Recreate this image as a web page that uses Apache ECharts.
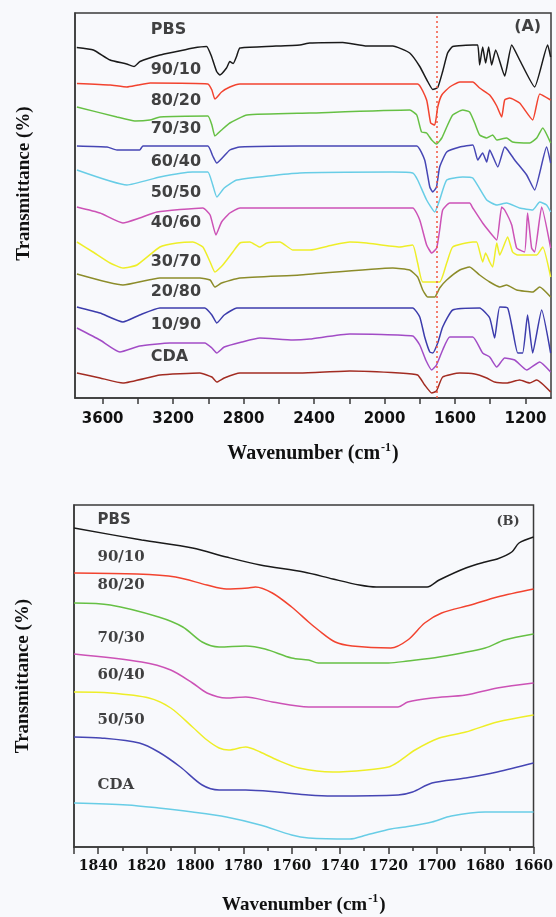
<!DOCTYPE html>
<html>
<head>
<meta charset="utf-8">
<title>FTIR spectra</title>
<script src="https://cdn.jsdelivr.net/npm/echarts@6/dist/echarts.min.js"></script>
<style>
html, body { margin: 0; padding: 0; background: #f8f9fc; }
#chart { width: 556px; height: 917px; }
</style>
</head>
<body>
<div id="chart"></div>
<script>
// ---- panel A: full spectra, [wavenumber, offset transmittance] ----
const namesA = ["PBS", "90/10", "80/20", "70/30", "60/40", "50/50", "40/60", "30/70", "20/80", "10/90", "CDA"];
const pbsA = [[3747,70.1],[3653,69.6],[3558,67.6],[3464,66.8],[3422,66.3],[3388,67.3],[3275,68.6],[3180,69.3],[3086,70.0],[3010,70.3],[2982,68.3],[2953,65.3],[2935,64.6],[2897,66.0],[2878,67.3],[2859,66.9],[2840,68.3],[2821,70.0],[2670,70.3],[2481,70.6],[2424,71.0],[2237,71.1],[2101,70.4],[1953,70.4],[1857,69.0],[1800,66.3],[1755,63.3],[1726,61.7],[1698,62.1],[1670,65.3],[1642,69.0],[1613,70.3],[1499,70.6],[1471,70.6],[1460,66.6],[1443,70.2],[1426,67.0],[1409,70.2],[1392,66.6],[1369,69.6],[1318,64.4],[1278,70.6],[1233,67.6],[1148,62.2],[1074,70.6],[1057,68.2]];
const b9010A = [[3746,62.9],[3558,62.6],[3462,62.2],[3400,62.6],[3330,63.0],[3003,62.8],[2980,61.6],[2963,59.8],[2925,61.2],[2878,62.2],[2821,62.8],[2481,62.8],[1812,62.8],[1761,59.6],[1738,55.0],[1715,54.6],[1698,58.2],[1675,60.6],[1630,62.2],[1573,63.2],[1499,63.2],[1460,62.0],[1403,60.6],[1363,58.4],[1335,56.2],[1318,59.6],[1290,60.0],[1233,59.0],[1159,55.6],[1119,60.8],[1057,59.6]];
const b8020A = [[3746,58.2],[3519,56.2],[3417,55.4],[3332,55.6],[3275,56.2],[3003,56.4],[2980,54.6],[2963,52.4],[2925,53.6],[2878,55.0],[2781,56.6],[2424,57.0],[1857,57.6],[1817,56.6],[1790,53.2],[1761,53.0],[1732,51.6],[1704,50.8],[1675,52.0],[1647,54.2],[1613,56.6],[1556,57.6],[1517,57.2],[1488,55.0],[1460,52.6],[1420,52.0],[1386,52.6],[1363,51.6],[1307,52.0],[1273,51.2],[1176,51.0],[1136,52.0],[1102,54.0],[1057,51.0]];
const b7030A = [[3746,50.4],[3575,50.2],[3519,49.6],[3390,49.6],[3371,50.4],[3003,50.4],[2975,48.4],[2952,47.0],[2878,49.6],[2821,50.2],[2481,50.4],[1817,50.4],[1772,47.6],[1743,42.2],[1726,41.2],[1705,42.2],[1687,46.2],[1647,49.2],[1573,50.2],[1499,50.6],[1471,47.6],[1443,49.0],[1420,47.2],[1403,49.6],[1357,46.2],[1318,50.2],[1301,49.6],[1261,47.6],[1193,44.6],[1148,41.6],[1080,50.2],[1057,47.0]];
const b6040A = [[3746,45.6],[3462,42.6],[3275,44.2],[3090,45.2],[3003,45.2],[2975,42.6],[2952,40.2],[2910,42.0],[2838,43.6],[2481,45.0],[1955,45.2],[1840,45.0],[1812,43.6],[1761,39.6],[1715,37.2],[1687,39.6],[1647,43.6],[1556,44.2],[1499,44.0],[1420,39.6],[1363,38.6],[1307,39.0],[1233,38.0],[1159,37.6],[1119,39.2],[1080,38.6],[1057,37.2]];
const b5050A = [[3746,38.2],[3615,37.0],[3485,35.0],[3390,36.0],[3292,37.2],[3031,38.0],[2990,36.6],[2957,32.6],[2925,35.2],[2878,37.0],[2821,38.0],[1840,38.0],[1800,35.6],[1761,30.6],[1732,29.0],[1704,30.0],[1687,33.6],[1670,37.6],[1630,39.0],[1517,39.0],[1499,38.0],[1443,35.0],[1403,33.2],[1363,31.6],[1335,38.2],[1318,37.6],[1278,34.6],[1250,30.0],[1205,29.2],[1188,37.0],[1165,30.0],[1148,29.2],[1108,38.2],[1057,30.0]];
const b4060A = [[3746,31.2],[3655,29.2],[3558,27.0],[3485,26.0],[3405,26.6],[3275,30.2],[3178,31.0],[3088,31.2],[3031,30.2],[2990,27.2],[2963,25.2],[2918,26.6],[2861,29.2],[2821,31.0],[2764,31.2],[2708,30.2],[2668,31.0],[2594,31.2],[2520,29.6],[2424,29.6],[2294,30.6],[2197,31.2],[2101,31.0],[1914,30.2],[1840,30.6],[1812,27.0],[1783,23.2],[1687,23.2],[1647,27.0],[1613,30.2],[1499,31.2],[1477,31.2],[1443,27.2],[1426,29.0],[1403,27.2],[1386,26.2],[1363,31.0],[1346,28.6],[1301,32.2],[1273,29.2],[1244,28.6],[1136,28.6],[1102,30.2],[1057,24.2]];
const b3070A = [[3746,24.8],[3485,22.6],[3275,24.0],[3048,24.0],[2990,23.6],[2963,22.2],[2925,23.0],[2821,24.0],[2481,24.6],[1953,26.0],[1857,25.6],[1812,24.2],[1783,21.6],[1755,20.2],[1715,20.2],[1687,22.0],[1647,23.6],[1573,25.6],[1517,26.2],[1460,24.6],[1403,23.2],[1346,22.2],[1307,22.6],[1250,21.6],[1159,21.2],[1119,22.2],[1057,20.2]];
const b2080A = [[3746,18.2],[3615,17.0],[3485,15.2],[3390,16.6],[3275,18.0],[3020,18.0],[2980,16.6],[2952,15.0],[2910,16.6],[2838,18.0],[1840,18.0],[1800,16.2],[1772,12.2],[1743,9.2],[1726,9.0],[1698,11.0],[1670,14.2],[1613,17.6],[1460,18.0],[1403,16.0],[1375,12.0],[1346,18.2],[1301,18.0],[1273,13.6],[1244,9.0],[1216,9.0],[1188,16.6],[1159,9.0],[1108,17.6],[1057,9.0]];
const b1090A = [[3746,14.0],[3615,11.6],[3502,9.2],[3390,10.4],[3218,11.0],[3020,11.0],[2980,10.0],[2952,9.0],[2910,10.2],[2810,11.2],[2708,12.0],[2520,11.6],[2424,11.8],[2197,12.8],[1840,12.4],[1800,10.6],[1766,7.6],[1732,5.6],[1705,6.6],[1670,9.6],[1630,12.2],[1499,12.2],[1443,9.0],[1403,8.2],[1363,6.2],[1318,8.0],[1261,7.6],[1193,5.6],[1119,7.2],[1057,5.2]];
const cdaA = [[3746,5.0],[3615,4.0],[3485,3.0],[3275,4.6],[3048,5.0],[2980,4.2],[2952,3.2],[2910,4.0],[2821,5.0],[2481,5.0],[2197,5.4],[1914,5.0],[1812,4.6],[1772,2.6],[1732,1.0],[1705,1.4],[1670,4.2],[1573,5.0],[1488,4.8],[1420,4.0],[1375,3.2],[1307,3.0],[1233,3.6],[1176,3.0],[1136,3.6],[1057,1.2]];
const labelYA = [73.6, 65.6, 59.4, 53.8, 47.2, 41.0, 35.0, 27.2, 21.2, 14.6, 8.2];
const labelXA = 3330;
const carbonylLine = 1705;
const ticksA = [1200, 1600, 2000, 2400, 2800, 3200, 3600];
const allTicksA = [1200, 1400, 1600, 1800, 2000, 2200, 2400, 2600, 2800, 3000, 3200, 3400, 3600];

// ---- panel B: carbonyl region ----
const namesB = ["PBS", "90/10", "80/20", "70/30", "60/40", "50/50", "CDA"];
const pbsB = [[1850,63.8],[1822,61.4],[1801,59.8],[1787,58.0],[1773,56.4],[1755,55.0],[1743,53.6],[1732,52.4],[1725,52.0],[1704,52.0],[1699,53.4],[1688,55.8],[1680,57.0],[1675,57.6],[1669,59.0],[1666,60.8],[1660,62.0]];
const b9010B = [[1850,54.8],[1824,54.6],[1808,54.0],[1795,52.4],[1787,51.6],[1778,51.8],[1775,52.0],[1768,50.8],[1760,48.0],[1753,45.0],[1749,43.4],[1742,41.0],[1735,40.2],[1719,39.8],[1712,41.4],[1705,44.8],[1698,46.8],[1686,48.4],[1675,50.0],[1660,51.6]];
const b8020B = [[1850,48.8],[1835,48.4],[1815,46.0],[1805,44.0],[1797,41.0],[1790,40.0],[1779,40.2],[1771,39.6],[1760,37.8],[1753,37.4],[1749,36.8],[1720,36.8],[1712,37.2],[1699,38.0],[1680,39.8],[1672,41.4],[1660,42.6]];
const b7030B = [[1850,38.6],[1822,37.0],[1810,35.4],[1801,32.8],[1795,30.8],[1787,29.8],[1779,30.0],[1768,29.0],[1753,28.0],[1716,28.0],[1712,29.0],[1702,29.8],[1688,30.4],[1675,31.8],[1660,32.8]];
const b6040B = [[1850,31.0],[1835,30.8],[1819,29.8],[1810,27.8],[1801,24.0],[1795,21.4],[1790,19.8],[1786,19.4],[1779,20.0],[1773,19.0],[1766,17.4],[1757,15.8],[1743,15.0],[1729,15.4],[1720,16.0],[1716,17.0],[1709,19.4],[1699,21.8],[1688,23.0],[1675,25.0],[1660,26.4]];
const b5050B = [[1850,22.0],[1839,21.8],[1823,20.8],[1815,19.0],[1806,16.0],[1797,12.4],[1790,11.4],[1779,11.4],[1766,11.0],[1753,10.4],[1743,10.2],[1716,10.4],[1710,11.0],[1702,12.8],[1688,13.8],[1675,15.0],[1660,16.8]];
const cdaB = [[1850,8.8],[1828,8.4],[1815,7.8],[1801,7.0],[1787,6.0],[1773,4.4],[1760,2.4],[1753,1.8],[1736,1.6],[1729,2.4],[1719,3.6],[1713,4.0],[1702,5.0],[1694,6.2],[1680,7.0],[1660,7.0]];
const labelYB = [65.4, 58.0, 52.4, 41.8, 34.4, 25.4, 12.4];
const labelXB = 1840.5;

// styles
const colorsA = ['#1a1a1a', '#f2432f', '#66c044', '#4646b4', '#68cde6', '#cc52b6', '#eeee28', '#8c8c2a', '#3c3cac', '#a24cc6', '#a22c22'];
const colorsB = ['#1a1a1a', '#f2432f', '#66c044', '#cc52b6', '#eeee28', '#4646b4', '#68cde6'];
const ink = '#111';
const frame = '#3a3a3a';

let myChart = echarts.init(document.getElementById('chart'));

const seriesA = [pbsA, b9010A, b8020A, b7030A, b6040A, b5050A, b4060A, b3070A, b2080A, b1090A, cdaA];
const seriesB = [pbsB, b9010B, b8020B, b7030B, b6040B, b5050B, cdaB];

function titleStyle(size) {
    return {
        fontFamily: 'Liberation Serif', fontWeight: 'bold', fontSize: size, color: ink,
        rich: {
            base: { fontFamily: 'Liberation Serif', fontWeight: 'bold', fontSize: size, color: ink },
            sup: { fontFamily: 'Liberation Serif', fontWeight: 'bold', fontSize: 12, color: ink, padding: [0, 1, 12, 1] }
        }
    };
}

let series = [];
seriesA.forEach(function (d, i) {
    let s = {
        name: namesA[i], type: 'line', xAxisIndex: 0, yAxisIndex: 0,
        data: d, showSymbol: false, symbol: 'none', smooth: 0.15,
        lineStyle: { color: colorsA[i], width: 1.5 }, silent: true, z: 3
    };
    if (i === 0) {
        // 羰基参考虚线
        s.markLine = {
            silent: true, symbol: 'none', label: { show: false },
            lineStyle: { type: [2, 3], color: '#f2563f', width: 1.5 },
            data: [{ xAxis: carbonylLine }]
        };
    }
    series.push(s);
});
seriesB.forEach(function (d, i) {
    series.push({
        name: namesB[i] + ' B', type: 'line', xAxisIndex: 1, yAxisIndex: 1,
        data: d, showSymbol: false, symbol: 'none', smooth: 0.3,
        lineStyle: { color: colorsB[i], width: 1.5 }, silent: true, z: 3
    });
});

// 曲线标签
series.push({
    type: 'scatter', xAxisIndex: 0, yAxisIndex: 0, symbolSize: 1, silent: true,
    itemStyle: { color: 'rgba(0,0,0,0)' },
    data: namesA.map((n, i) => [labelXA, labelYA[i], n])
        .concat([{ value: [1108, 74.2, '(A)'], label: { position: 'left' } }]),
    label: {
        show: true, position: 'right', distance: 0,
        formatter: p => p.value[2],
        fontFamily: 'DejaVu Sans', fontWeight: 'bold', fontSize: 16, color: ink
    }
});
series.push({
    type: 'scatter', xAxisIndex: 1, yAxisIndex: 1, symbolSize: 1, silent: true,
    itemStyle: { color: 'rgba(0,0,0,0)' },
    data: namesB.map((n, i) => ({
        value: [labelXB, labelYB[i], n],
        label: { fontFamily: n === 'PBS' ? 'DejaVu Sans' : 'DejaVu Serif' }
    })).concat([{ value: [1665.5, 65.0, '(B)'], label: { fontFamily: 'DejaVu Serif', fontSize: 13, position: 'left' } }]),
    label: {
        show: true, position: 'right', distance: 0,
        formatter: p => p.value[2],
        fontWeight: 'bold', fontSize: 15, color: ink
    }
});

let option = {
    backgroundColor: '#f8f9fc',
    animation: false,
    grid: [
        { left: 75, top: 13, width: 476, height: 385, show: true, borderColor: frame, borderWidth: 1.5 },
        { left: 74, top: 505, width: 461, height: 342, show: true, borderColor: frame, borderWidth: 1.5 }
    ],
    xAxis: [
        {
            gridIndex: 0, type: 'value', min: 1055, max: 3757, inverse: true,
            axisLine: { lineStyle: { color: frame, width: 1.5 } },
            axisTick: { customValues: allTicksA, length: 6, lineStyle: { color: frame, width: 1.5 } },
            axisLabel: { customValues: ticksA, margin: 14, fontFamily: 'DejaVu Sans', fontWeight: 'bold', fontSize: 15, color: ink,
                formatter: v => String(v) },
            splitLine: { show: false },
            name: '{base|Wavenumber (cm}{sup|-1}{base|)}', nameLocation: 'middle', nameGap: 44,
            nameTextStyle: titleStyle(20)
        },
        {
            gridIndex: 1, type: 'value', min: 1660, max: 1850, interval: 20, inverse: true,
            axisLine: { lineStyle: { color: frame, width: 1.5 } },
            axisTick: { length: 7, lineStyle: { color: frame, width: 1.5 } },
            minorTick: { show: true, splitNumber: 2, length: 4, lineStyle: { color: frame, width: 1.5 } },
            axisLabel: { margin: 12, fontFamily: 'DejaVu Serif', fontWeight: 'bold', fontSize: 14, color: ink,
                showMinLabel: true, showMaxLabel: false, formatter: v => String(v) },
            splitLine: { show: false },
            name: '{base|Wavenumber (cm}{sup|-1}{base|)}', nameLocation: 'middle', nameGap: 46,
            nameTextStyle: titleStyle(19)
        }
    ],
    yAxis: [
        {
            gridIndex: 0, type: 'value', min: 0, max: 77,
            axisLine: { show: true, lineStyle: { color: frame, width: 1.5 } },
            axisTick: { show: false }, axisLabel: { show: false }, splitLine: { show: false },
            name: 'Transmittance (%)', nameLocation: 'middle', nameGap: 41,
            nameTextStyle: { fontFamily: 'Liberation Serif', fontWeight: 'bold', fontSize: 19, color: ink, padding: [0, 0, 0, 44] }
        },
        {
            gridIndex: 1, type: 'value', min: 0, max: 68.4,
            axisLine: { show: true, lineStyle: { color: frame, width: 1.5 } },
            axisTick: { show: false }, axisLabel: { show: false }, splitLine: { show: false },
            name: 'Transmittance (%)', nameLocation: 'middle', nameGap: 41,
            nameTextStyle: { fontFamily: 'Liberation Serif', fontWeight: 'bold', fontSize: 19, color: ink, padding: [0, 0, 0, 0] }
        }
    ],
    series: series
};

myChart.setOption(option);
window.addEventListener("resize", function () {
    myChart.resize();
});
</script>
</body>
</html>
